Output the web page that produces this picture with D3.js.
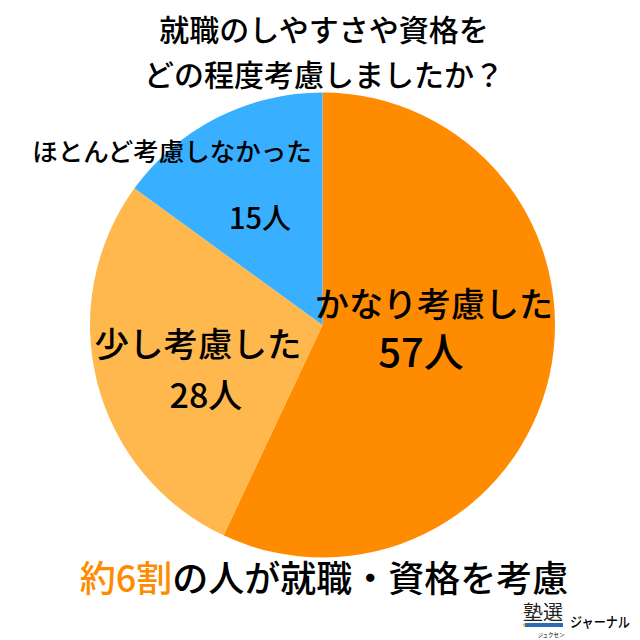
<!DOCTYPE html>
<html>
<head>
<meta charset="utf-8">
<script src="https://cdn.jsdelivr.net/npm/d3@7"></script>
<style>
  html, body { margin: 0; padding: 0; background: #fff; }
  text { font-family: "Noto Sans CJK JP", sans-serif; fill: #000; font-weight: 500; }
</style>
</head>
<body>
<svg id="chart" width="640" height="640"></svg>
<script>
const categories = ["かなり考慮した", "少し考慮した", "ほとんど考慮しなかった"];
const counts = [57, 28, 15];
const sliceColors = ["#ff8c00", "#ffb84d", "#38b0ff"];
const titleLines = ["就職のしやすさや資格を", "どの程度考慮しましたか？"];

const svg = d3.select("#chart");
svg.append("rect").attr("width", 640).attr("height", 640).attr("fill", "#fff");

const pie = d3.pie().sort(null).value(d => d);
const arc = d3.arc().innerRadius(0).outerRadius(232.5);

const g = svg.append("g").attr("transform", "translate(322.5,325)");
g.selectAll("path")
    .data(pie(counts))
    .enter()
    .append("path")
    .attr("d", arc)
    .attr("fill", (d, i) => sliceColors[i]);

// title
svg.selectAll("text.title")
    .data(titleLines)
    .enter()
    .append("text")
    .attr("class", "title")
    .attr("x", 324)
    .attr("y", (d, i) => 41 + i * 45)
    .attr("text-anchor", "middle")
    .style("font-size", "30px")
    .text(d => d);

// slice labels
const labelPos = [
    { x: 434, y: 317, s: 34, nx: 421, ny: 367, n: 40 },
    { x: 198, y: 357, s: 34.5, nx: 206, ny: 408, n: 34 },
    { x: 172, y: 161, s: 25.5, nx: 260, ny: 229, n: 29 }
];
labelPos.forEach((p, i) => {
    svg.append("text").attr("x", p.x).attr("y", p.y)
        .attr("text-anchor", "middle").style("font-size", p.s + "px")
        .text(categories[i]);
    svg.append("text").attr("x", p.nx).attr("y", p.ny)
        .attr("text-anchor", "middle").style("font-size", p.n + "px")
        .text(counts[i] + "人");
});

// bottom message
const msg = svg.append("text").attr("x", 324).attr("y", 592)
    .attr("text-anchor", "middle").style("font-size", "36px");
msg.append("tspan").style("fill", "#ff8c00").text("約6割");
msg.append("tspan").text("の人が就職・資格を考慮");

// logo
svg.append("text").attr("x", 543).attr("y", 620).attr("text-anchor", "middle")
    .style("font-size", "20px").style("font-weight", 400).style("fill", "#222").text("塾選");
svg.append("rect").attr("x", 525).attr("y", 623).attr("width", 38).attr("height", 4).attr("fill", "#2a6cb5");
svg.append("path").attr("d", "M522,625L525,623V627Z").attr("fill", "#f0c040");
svg.append("text").attr("x", 551).attr("y", 637).attr("text-anchor", "middle")
    .style("font-size", "5.5px").style("font-weight", 400).text("ジュクセン");
svg.append("text").attr("x", 570).attr("y", 627)
    .attr("textLength", 60).attr("lengthAdjust", "spacingAndGlyphs")
    .style("font-size", "14px").text("ジャーナル");
</script>
</body>
</html>
